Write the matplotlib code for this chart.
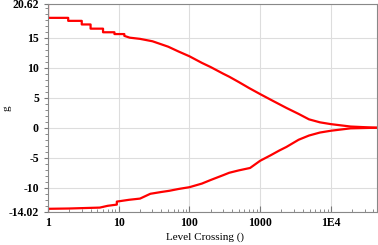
import matplotlib.pyplot as plt
import numpy as np
from matplotlib.ticker import LogLocator, NullFormatter, MultipleLocator

# upper branch
x_up = [1, 1, 1.93, 1.93, 3.0, 3.0, 4.0, 4.0, 6.0, 6.0, 8.7, 8.7, 12, 12, 14.3, 20, 30,
        50, 70, 100, 150, 200, 300, 365, 500, 700, 1000, 1500, 2350, 3500, 4900, 7000, 1e4, 19000, 44700]
y_up = [20.62, 18.3, 18.3, 17.8, 17.8, 17.2, 17.2, 16.5, 16.5, 15.9, 15.9, 15.6, 15.6, 15.3, 15.0, 14.8, 14.4,
        13.5, 12.7, 11.9, 10.8, 10.1, 9.0, 8.5, 7.6, 6.6, 5.6, 4.5, 3.3, 2.3, 1.4, 0.9, 0.6, 0.2, 0.0]

# lower branch
x_lo = [1, 1, 2, 5.4, 7, 9.4, 9.4, 14, 20, 28, 40, 52, 70, 100, 150, 200, 300, 365, 500, 720, 1000,
        1400, 1860, 2350, 3500, 4900, 7000, 1e4, 19000, 44700]
y_lo = [-14.02, -13.5, -13.45, -13.3, -13.0, -12.8, -12.3, -12.0, -11.8, -11.0, -10.7, -10.5, -10.2, -9.9, -9.3,
        -8.7, -7.9, -7.5, -7.1, -6.7, -5.5, -4.6, -3.8, -3.2, -2.0, -1.3, -0.8, -0.5, -0.1, 0.0]

yticks = [-14.02, -10, -5, 0, 5, 10, 15, 20.62]
ytick_labels = ['-14.02', '-10', '-5', '0', '5', '10', '15', '20.62']
xticks = [1, 10, 100, 1000, 1e4]
xtick_labels = ['1', '10', '100', '1000', '1E4']

plt.rcParams['font.family'] = 'Liberation Serif'
plt.rcParams['font.weight'] = 'bold'

fig = plt.figure(figsize=(3.78, 2.45), dpi=100)
ax = fig.add_axes([0.127, 0.135, 0.870, 0.849])

ax.plot(x_up, y_up, color='#ff0000', lw=1.6)
ax.plot(x_lo, y_lo, color='#ff0000', lw=1.6)

ax.set_xscale('log')
ax.set_xlim(1, 44700)
ax.set_ylim(-14.02, 20.62)

ax.set_xticks(xticks)
ax.set_xticklabels(xtick_labels)
ax.xaxis.set_minor_locator(LogLocator(base=10, subs=np.arange(2, 10), numticks=20))
ax.xaxis.set_minor_formatter(NullFormatter())
ax.set_yticks(yticks)
ax.set_yticklabels(ytick_labels)
ax.yaxis.set_minor_locator(MultipleLocator(1))

ax.tick_params(axis='x', which='both', direction='in', colors='#777777', labelcolor='black', labelsize=8.5)
ax.tick_params(axis='x', which='major', length=4, pad=4)
ax.tick_params(axis='x', which='minor', length=2.5)
ax.tick_params(axis='y', which='both', direction='out', colors='#777777', labelcolor='black', labelsize=8.5)
ax.tick_params(axis='y', which='major', length=3)
ax.tick_params(axis='y', which='minor', length=2)

ax.grid(True, which='major', color='#dddddd', lw=0.8)
ax.set_axisbelow(True)
for s in ax.spines.values():
    s.set_color('#888888')
    s.set_linewidth(0.8)

ax.set_xlabel('Level Crossing ()', fontsize=8)
ax.set_ylabel('g', fontsize=8)
ax.xaxis.set_label_coords(0.477, -0.10)
ax.yaxis.set_label_coords(-0.11, 0.5)

plt.savefig('out.png', dpi=100)
